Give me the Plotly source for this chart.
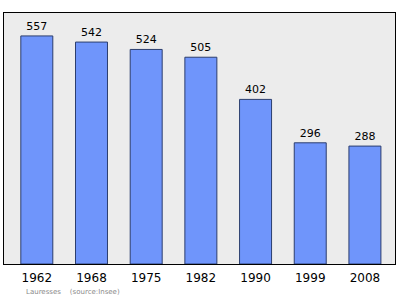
import plotly.graph_objects as go

years = ["1962", "1968", "1975", "1982", "1990", "1999", "2008"]
population = [557, 542, 524, 505, 402, 296, 288]

xs = list(range(len(years)))

fig = go.Figure()
fig.add_trace(go.Bar(
    x=xs, y=population, width=0.585,
    marker=dict(color="#6f95fb", line=dict(color="#2c3e6e", width=1)),
    text=[str(v) for v in population], textposition="outside",
    textfont=dict(family="DejaVu Sans", size=11, color="#000000"),
    cliponaxis=False,
))

fig.update_layout(
    width=400, height=299,
    margin=dict(l=4, r=5, t=13, b=35),
    paper_bgcolor="#ffffff", plot_bgcolor="#ececec",
    showlegend=False,
    xaxis=dict(range=[-0.6, 6.55], tickmode="array", tickvals=xs, ticktext=years,
               showgrid=False, zeroline=False, showline=True, linecolor="#000000",
               linewidth=1, mirror=True, ticks="", ticklabelstandoff=3,
               tickfont=dict(family="DejaVu Sans", size=12, color="#000000")),
    yaxis=dict(range=[0, 613], showgrid=False, zeroline=False, showticklabels=False,
               showline=True, linecolor="#000000", linewidth=1, mirror=True, ticks=""),
    annotations=[dict(text="Lauresses&nbsp;&nbsp;&nbsp;&nbsp;(source:Insee)", xref="paper", yref="paper",
                      x=0.05, y=-0.11, xanchor="left", yanchor="middle", showarrow=False,
                      font=dict(family="DejaVu Sans", size=7, color="#8a8a8a"))],
)

fig.write_html("out.html")
